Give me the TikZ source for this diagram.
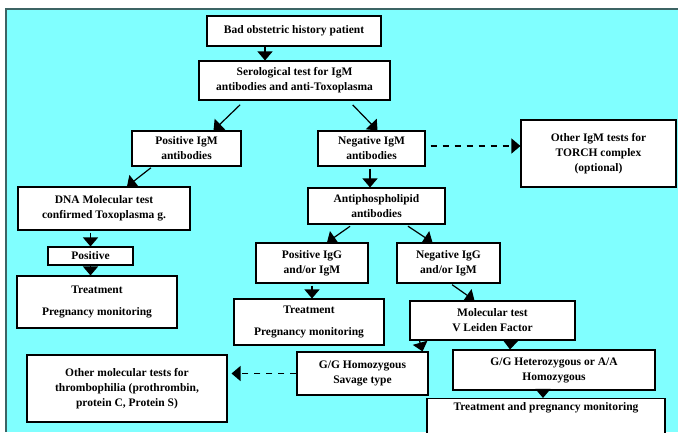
\documentclass[tikz,border=0pt]{standalone}
\usepackage{fontspec}
\setmainfont{Liberation Serif}
\usepackage{xcolor}
\usepackage{tikz}
\usetikzlibrary{arrows.meta,positioning,calc}

\definecolor{bgcyan}{RGB}{128,255,255}
\definecolor{edgeteal}{RGB}{60,100,100}

\begin{document}
\begin{tikzpicture}[
    x=1pt, y=-1pt,
    box/.style={rectangle, draw=black, line width=1.1pt, fill=white, font=\fontsize{11.5}{15}\selectfont\bfseries, align=center, inner sep=2pt},
    arr/.style={-{Triangle[width=15pt,length=9pt]}, line width=1.2pt},
    opt/.style={arr, dash pattern=on 6pt off 6pt}
]
    \clip (0,0) rectangle (678,432);
    \fill[bgcyan] (6,9) rectangle (678,432);
    \draw[edgeteal, line width=1.2pt] (6,432) -- (6,9) -- (678,9);

    % Serology branch
    \node[box, minimum width=174, minimum height=30] (bad) at (294,31) {Bad obstetric history patient};
    \node[box, minimum width=191, minimum height=39] (ser) at (294.5,80.5) {Serological test for IgM\\antibodies and anti-Toxoplasma};
    \node[box, minimum width=109, minimum height=35] (posigm) at (186.5,148.5) {Positive IgM\\antibodies};
    \node[box, minimum width=107, minimum height=35] (negigm) at (371.5,148.5) {Negative IgM\\antibodies};
    \node[box, minimum width=155, minimum height=67] (torch) at (598.5,153.5) {Other IgM tests for\\TORCH complex\\(optional)};

    % Toxoplasma side
    \node[box, minimum width=172, minimum height=43] (dna) at (104,208.5) {DNA Molecular test\\confirmed Toxoplasma g.};
    \node[box, minimum width=85, minimum height=18, inner sep=1pt] (pos) at (90.5,256) {Positive};
    \node[box, minimum width=160, minimum height=52] (treatA) at (97,302) {Treatment\\[7pt]Pregnancy monitoring};

    % Antiphospholipid side
    \node[box, minimum width=137, minimum height=36] (aphos) at (376.5,206) {Antiphospholipid\\antibodies};
    \node[box, minimum width=112, minimum height=40] (posigg) at (312,263) {Positive IgG\\and/or IgM};
    \node[box, minimum width=103, minimum height=40] (negigg) at (448.5,263) {Negative IgG\\and/or IgM};
    \node[box, minimum width=150, minimum height=46] (treatB) at (309,322) {Treatment\\[7pt]Pregnancy monitoring};
    \node[box, minimum width=165, minimum height=39] (leiden) at (492.5,320.5) {Molecular test\\V Leiden Factor};

    % Factor V Leiden results
    \node[box, minimum width=131, minimum height=43] (homo) at (362.5,373.5) {G/G Homozygous\\Savage type};
    \node[box, minimum width=202, minimum height=40] (hetero) at (554,370) {G/G Heterozygous or A/A\\Homozygous};
    \node[box, minimum width=200, minimum height=67] (thromb) at (127,388.5) {Other molecular tests for\\thrombophilia (prothrombin,\\protein C, Protein S)};
    \node[box, minimum width=238, text height=9pt, text depth=34pt, inner sep=3pt] (treatC) at (546,423) {Treatment and pregnancy monitoring};

    % Connectors
    \draw[arr] ([xshift=-29]bad.south) -- ([xshift=-29.5]ser.north);
    \draw[arr, shorten <=6pt] ([xshift=-50]ser.south) -- ([xshift=27]posigm.north);
    \draw[arr, shorten <=6pt] ([xshift=54]ser.south) -- ([xshift=6]negigm.north);
    \draw[opt, shorten <=5pt] (negigm.east |- 0,146) -- (torch.west |- 0,146);
    \draw[arr, shorten <=2pt] ([xshift=-34]posigm.south) -- ([xshift=23]dna.north);
    \draw[arr, shorten <=2pt] (dna.south -| pos) -- (pos.north);
    \draw[arr] (pos.south) -- (pos.south |- treatA.north);
    \draw[arr, shorten <=2pt] ([xshift=-1.5]negigm.south) -- ([xshift=-6.5]aphos.north);
    \draw[arr, shorten <=3pt] ([xshift=-24]aphos.south) -- ([xshift=15]posigg.north);
    \draw[arr, shorten <=3pt] ([xshift=29]aphos.south) -- ([xshift=-16]negigg.north);
    \draw[arr, shorten <=2pt] (posigg.south) -- (posigg.south |- treatB.north);
    \draw[arr, shorten <=2pt] ([xshift=2]negigg.south) -- ([xshift=-18]leiden.north);
    \draw[arr] ([xshift=10]leiden.south west) -- ([xshift=-6]homo.north east);
    \draw[arr] ([xshift=18]leiden.south) -- ([xshift=-44]hetero.north);
    \draw[opt, shorten >=4pt] (homo.west) -- (homo.west -| thromb.east);
    \draw[arr] ([xshift=-11]hetero.south) -- ([xshift=-3]treatC.north);
\end{tikzpicture}
\end{document}
